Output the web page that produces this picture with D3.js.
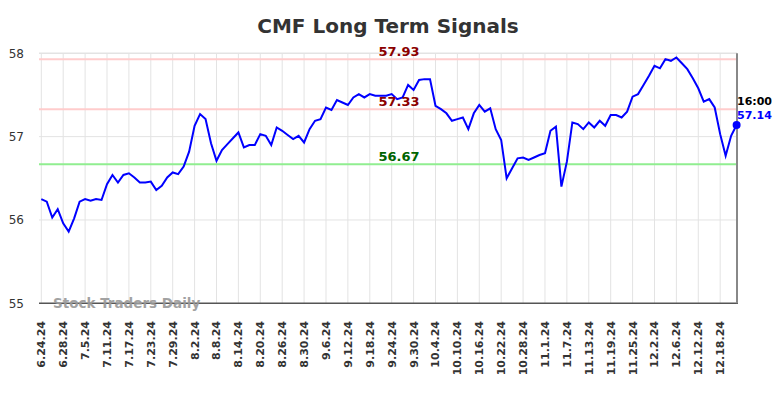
<!DOCTYPE html>
<html>
<head>
<meta charset="utf-8">
<script src="https://cdn.jsdelivr.net/npm/d3@7"></script>
<style>
  body { margin: 0; background: #fff; }
  svg { display: block; font-family: "DejaVu Sans", sans-serif; }
</style>
</head>
<body>
<div id="chart"></div>
<script>
// CMF long term signals – daily closes, one tick label every 4 sessions

const tickLabels = ["6.24.24","6.28.24","7.5.24","7.11.24","7.17.24","7.23.24","7.29.24","8.2.24",
  "8.8.24","8.14.24","8.20.24","8.26.24","8.30.24","9.6.24","9.12.24","9.18.24","9.24.24","9.30.24",
  "10.4.24","10.10.24","10.16.24","10.22.24","10.28.24","11.1.24","11.7.24","11.13.24","11.19.24",
  "11.25.24","12.2.24","12.6.24","12.12.24","12.18.24"];
const TICK_EVERY = 4;

const values = [
  56.25,56.22,56.03,56.13,55.96,55.86,56.02,56.22,56.25,56.23,
  56.25,56.24,56.43,56.54,56.45,56.54,56.56,56.51,56.45,56.45,
  56.46,56.36,56.41,56.51,56.57,56.55,56.64,56.82,57.13,57.27,
  57.21,56.92,56.71,56.84,56.91,56.98,57.05,56.87,56.90,56.90,
  57.03,57.01,56.90,57.11,57.07,57.02,56.97,57.01,56.93,57.09,
  57.19,57.21,57.35,57.32,57.44,57.41,57.38,57.47,57.51,57.47,
  57.51,57.49,57.49,57.49,57.51,57.45,57.47,57.62,57.56,57.68,
  57.69,57.69,57.37,57.33,57.28,57.19,57.21,57.23,57.09,57.28,
  57.38,57.30,57.34,57.09,56.96,56.50,56.62,56.74,56.75,56.72,
  56.75,56.78,56.80,57.07,57.12,56.40,56.70,57.17,57.15,57.09,
  57.17,57.11,57.19,57.13,57.26,57.26,57.23,57.30,57.48,57.51,
  57.62,57.73,57.85,57.82,57.93,57.91,57.95,57.88,57.81,57.70,
  57.58,57.42,57.45,57.35,57.03,56.77,57.01,57.14
];

const resistance = [57.93, 57.33];
const support = [56.67];
const yTicks = [55, 56, 57, 58];
const lastTime = "16:00";

const WIDTH = 784, HEIGHT = 398;
const PL = 39, PR = 737, PT = 53.3, PB = 303.3;

const svg = d3.select("#chart").append("svg")
  .attr("width", WIDTH).attr("height", HEIGHT);

const x = d3.scaleLinear().domain([0, values.length - 1]).range([41.3, 736.6]);
const y = d3.scaleLinear().domain([55, 58]).range([PB, PT]);

const fmt = d3.format(".2f");

// title
svg.append("text")
  .attr("x", 388).attr("y", 33)
  .attr("text-anchor", "middle")
  .style("font-size", "20px").style("font-weight", "bold").style("fill", "#333")
  .text("CMF Long Term Signals");

// grid
const grid = svg.append("g").attr("class", "grid");
grid.selectAll("line.gx").data(tickLabels).join("line")
  .attr("class", "gx")
  .attr("x1", (d, i) => x(i * TICK_EVERY)).attr("x2", (d, i) => x(i * TICK_EVERY))
  .attr("y1", PT).attr("y2", PB)
  .attr("stroke", "#e3e3e3").attr("stroke-width", 1);
grid.selectAll("line.gy").data(yTicks.slice(1)).join("line")
  .attr("class", "gy")
  .attr("x1", PL).attr("x2", PR)
  .attr("y1", d => y(d)).attr("y2", d => y(d))
  .attr("stroke", "#e3e3e3").attr("stroke-width", d => d === 58 ? 1.5 : 1);

// y labels
svg.append("g").selectAll("text").data(yTicks).join("text")
  .attr("x", 24).attr("y", d => y(d) + 4.5)
  .attr("text-anchor", "end")
  .style("font-size", "12px").style("fill", "#333")
  .text(d => d);

// signal lines
const levels = resistance.map(v => ({ v, kind: "res" })).concat(support.map(v => ({ v, kind: "sup" })));
const lineCol = { res: "#ffcccc", sup: "#90ee90" };
const textCol = { res: "#8b0000", sup: "#006400" };
svg.append("g").selectAll("line").data(levels).join("line")
  .attr("x1", PL).attr("x2", PR)
  .attr("y1", d => y(d.v)).attr("y2", d => y(d.v))
  .attr("stroke", d => lineCol[d.kind]).attr("stroke-width", 2);

// x labels (rotated)
svg.append("g").selectAll("text").data(tickLabels).join("text")
  .attr("transform", (d, i) => `translate(${x(i * TICK_EVERY) + 4},321) rotate(-90)`)
  .attr("text-anchor", "end")
  .style("font-size", "11px").style("font-weight", "bold").style("fill", "#333")
  .text(d => d);

// axis frame
svg.append("line").attr("x1", PL).attr("x2", PR + 1).attr("y1", PB).attr("y2", PB)
  .attr("stroke", "#555").attr("stroke-width", 1.5);
svg.append("line").attr("x1", PR).attr("x2", PR).attr("y1", PT).attr("y2", PB)
  .attr("stroke", "#888").attr("stroke-width", 2);

// watermark
svg.append("text")
  .attr("x", 53).attr("y", 308)
  .style("font-size", "13.5px").style("font-weight", "bold").style("fill", "#999").style("opacity", 0.9)
  .text("Stock Traders Daily");

// price line
const line = d3.line().x((d, i) => x(i)).y(d => y(d));
svg.append("path").datum(values)
  .attr("d", line)
  .attr("fill", "none").attr("stroke", "#0000ff").attr("stroke-width", 2);

// level labels
svg.append("g").selectAll("text").data(levels).join("text")
  .attr("x", 399).attr("y", d => y(d.v) - 3)
  .attr("text-anchor", "middle")
  .style("font-size", "13px").style("font-weight", "bold")
  .style("fill", d => textCol[d.kind])
  .text(d => fmt(d.v));

// last point
const li = values.length - 1;
svg.append("circle").attr("cx", x(li)).attr("cy", y(values[li])).attr("r", 4).attr("fill", "#0000ff");
svg.append("text").attr("x", 737).attr("y", 105)
  .style("font-size", "11px").style("font-weight", "bold").style("fill", "#000")
  .text(lastTime);
svg.append("text").attr("x", 737).attr("y", 119)
  .style("font-size", "11px").style("font-weight", "bold").style("fill", "#0000ff")
  .text(fmt(values[li]));
</script>
</body>
</html>
